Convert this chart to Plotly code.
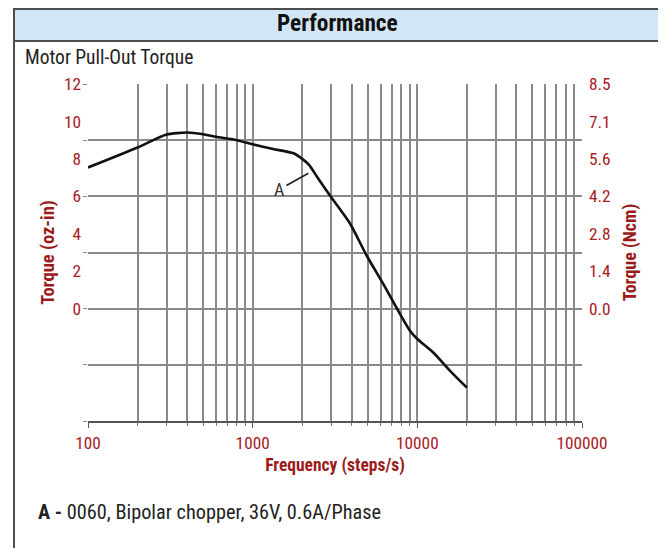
import math
import plotly.graph_objects as go

# ---- data ----
freq_steps_s = [100, 200, 300, 400, 500, 600, 800, 1000, 1330, 1770, 2000, 2200,
                2500, 3000, 3900, 4920, 6210, 7840, 9020, 10000, 12500, 15800, 20000]
torque_oz_in = [7.54, 8.61, 9.30, 9.41, 9.32, 9.18, 9.00, 8.78, 8.53, 8.30, 8.00, 7.68,
                6.95, 5.95, 4.55, 2.84, 1.32, -0.28, -1.18, -1.62, -2.34, -3.32, -4.22]

x_tick_vals = [100, 1000, 10000, 100000]
x_tick_text = ["100", "1000", "10000", "100000"]
left_tick_vals = [0, 2, 4, 6, 8, 10, 12]
left_tick_text = ["0", "2", "4", "6", "8", "10", "12"]
right_tick_text = ["0.0", "1.4", "2.8", "4.2", "5.6", "7.1", "8.5"]
y_grid_vals = [-6, -3, 0, 3, 6, 9, 12]
x_minor_vals = [m * 10 ** e for e in (2, 3, 4) for m in range(2, 10)]

label_point_freq = 2180
label_point_torque = 7.23

FONT = "Roboto Condensed, Liberation Sans Narrow, Arial Narrow, sans-serif"
RED = "#a8201f"
TITLE_RED = "#9b1b1b"
GRID = "#8a8a8a"
BORDER = "#4d4d4d"

fig = go.Figure()
fig.add_trace(go.Scatter(
    x=freq_steps_s, y=torque_oz_in, mode="lines",
    line=dict(color="#111111", width=2.6, shape="spline", smoothing=0.6),
    showlegend=False, hoverinfo="x+y",
))
# carrier for the right-hand (Ncm) axis; draws nothing
fig.add_trace(go.Scatter(
    x=freq_steps_s, y=torque_oz_in, mode="none", yaxis="y2",
    showlegend=False, hoverinfo="skip",
))

# the page body adds an 8px offset; margins are set so the plot area lands at
# x 88..582, y 84..421 in the screenshot
fig.update_layout(
    width=666, height=548,
    margin=dict(l=80, r=92, t=76, b=135),
    paper_bgcolor="white", plot_bgcolor="white",
    font=dict(family=FONT, size=17, color="#222"),
    xaxis=dict(
        type="log", range=[2, 5],
        tickmode="array", tickvals=x_tick_vals, ticktext=x_tick_text,
        tickfont=dict(color=RED, size=17.3, family=FONT),
        ticks="outside", ticklen=5, tickcolor="#555", tickwidth=1.2,
        ticklabelstandoff=0,
        showgrid=True, gridcolor=GRID, gridwidth=1.7,
        minor=dict(tickvals=x_minor_vals, showgrid=True, gridcolor=GRID, gridwidth=1.7,
                   ticks="outside", ticklen=3, tickcolor="#777"),
        showline=True, linecolor="#555", linewidth=1.5,
        zeroline=False,
        title=dict(text="<b>Frequency (steps/s)</b>", font=dict(color=TITLE_RED, size=17.5, family=FONT),
                   standoff=7),
    ),
    yaxis=dict(
        range=[-6, 12],
        tickmode="array", tickvals=left_tick_vals, ticktext=left_tick_text,
        tickfont=dict(color=RED, size=17.3, family=FONT),
        ticks="", showgrid=False, zeroline=False, showline=False,
        ticklabelstandoff=6,
        minor=dict(tickvals=y_grid_vals, showgrid=True, gridcolor=GRID, gridwidth=1.7,
                   ticks="outside", ticklen=4, tickcolor=GRID),
        title=dict(text="<b>Torque (oz-in)</b>", font=dict(color=TITLE_RED, size=18.5, family=FONT),
                   standoff=4),
    ),
    yaxis2=dict(
        overlaying="y", side="right", range=[-6, 12],
        tickmode="array", tickvals=left_tick_vals, ticktext=right_tick_text,
        tickfont=dict(color=RED, size=17.3, family=FONT),
        ticks="", showgrid=False, zeroline=False, showline=False,
        ticklabelstandoff=6,
        title=dict(text="<b>Torque (Ncm)</b>", font=dict(color=TITLE_RED, size=18, family=FONT),
                   standoff=13),
    ),
)

# panel frame and header (positions given in screenshot pixels)
def px_x(px):
    return (px - 88) / 494

def px_y(py):
    return (421 - py) / 337

fig.add_shape(type="rect", xref="paper", yref="paper",
              x0=px_x(14), x1=px_x(660), y0=px_y(41), y1=px_y(9),
              fillcolor="#d3e6f5", line=dict(color=BORDER, width=2), layer="below")
fig.add_shape(type="rect", xref="paper", yref="paper",
              x0=px_x(14), x1=px_x(660), y0=px_y(580), y1=px_y(9),
              fillcolor="rgba(0,0,0,0)", line=dict(color=BORDER, width=2), layer="below")

fig.add_annotation(xref="paper", yref="paper", x=px_x(337), y=px_y(23),
                   text="<b>Performance</b>", showarrow=False,
                   font=dict(family=FONT, size=23.3, color="#111"),
                   xanchor="center", yanchor="middle")
fig.add_annotation(xref="paper", yref="paper", x=px_x(23), y=px_y(57),
                   text="Motor Pull-Out Torque", showarrow=False,
                   font=dict(family=FONT, size=19.5, color="#222"),
                   xanchor="left", yanchor="middle")
fig.add_annotation(xref="paper", yref="paper", x=px_x(36), y=px_y(512),
                   text="<b>A -</b> 0060, Bipolar chopper, 36V, 0.6A/Phase", showarrow=False,
                   font=dict(family=FONT, size=20.3, color="#222"),
                   xanchor="left", yanchor="middle")

# curve label
fig.add_annotation(x=math.log10(label_point_freq), y=label_point_torque, xref="x", yref="y",
                   text="A", showarrow=True, arrowhead=0, arrowwidth=1.6, arrowcolor="#222",
                   ax=-29, ay=16, standoff=0,
                   font=dict(family=FONT, size=18, color="#333"))

fig.write_html("out.html")
